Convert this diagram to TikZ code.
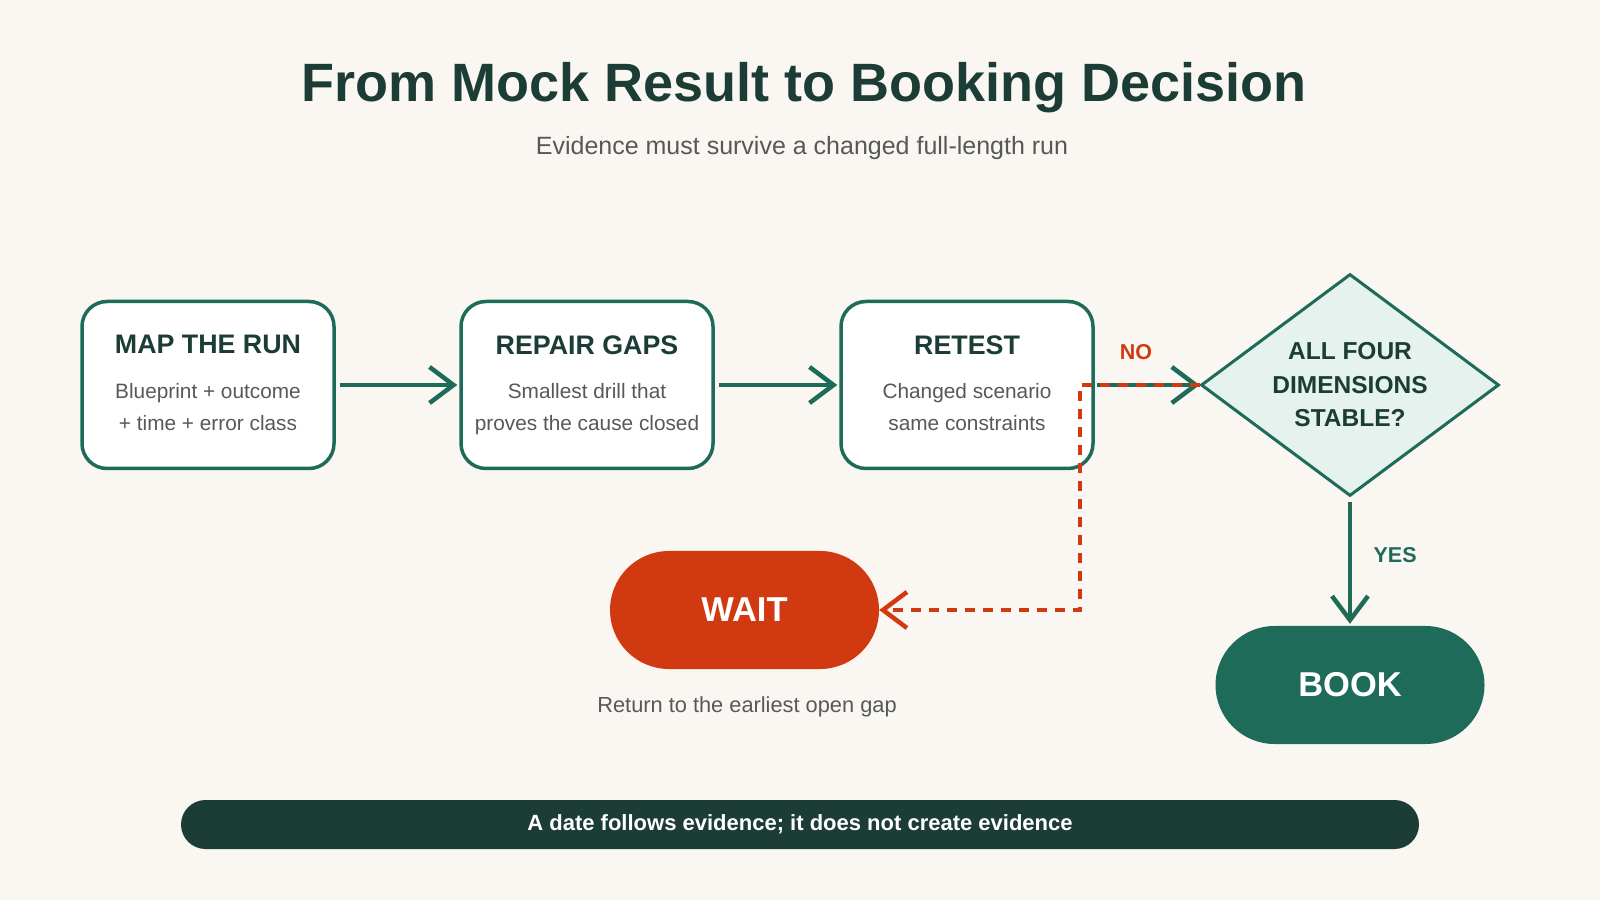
\documentclass[tikz,border=0pt]{standalone}
\usepackage{fontspec}
\setmainfont{Liberation Sans}
\usetikzlibrary{arrows.meta,shapes.geometric,positioning}

\definecolor{paper}{HTML}{FAF7F2}
\definecolor{ink}{HTML}{1B3D35}
\definecolor{teal}{HTML}{1E6B5A}
\definecolor{rust}{HTML}{D13A10}
\definecolor{mint}{HTML}{E6F2EE}
\definecolor{slate}{HTML}{555A57}

\newcommand{\stephead}{\bfseries\fontsize{26.8}{30}\selectfont\color{ink}}
\newcommand{\lastline}{\rule[-4.5pt]{0pt}{1pt}}

\tikzset{
  stepbox/.style={draw=teal, line width=3.5pt, fill=white, rounded corners=25pt,
    minimum width=252pt, minimum height=167pt, align=center, inner sep=0pt,
    font=\fontsize{20.8}{31.6}\selectfont, text=slate},
  checkbox/.style={diamond, aspect=1.34, draw=teal, line width=3pt, fill=mint, inner sep=0pt,
    minimum width=298pt, minimum height=222pt, align=center,
    font=\bfseries\fontsize{24.5}{33.5}\selectfont, text=ink},
  endcap/.style={minimum width=269pt, minimum height=118pt, rounded corners=59pt,
    inner sep=0pt, text=white, font=\bfseries\fontsize{34.5}{38}\selectfont},
  flow/.style={draw=teal, line width=4.5pt, -{Straight Barb[length=24pt,width=36pt]}},
  back/.style={draw=rust, line width=4.5pt, dash pattern=on 10pt off 8pt,
    -{Straight Barb[length=24pt,width=36pt]}},
  tag/.style={font=\bfseries\fontsize{21.5}{25}\selectfont}
}

\begin{document}
\begin{tikzpicture}[x=1pt,y=1pt]
    % Fondo
    \fill[paper] (0,0) rectangle (1600,900);
    \useasboundingbox (0,0) rectangle (1600,900);

    % Titulos
    \node[font=\bfseries\fontsize{54}{58}\selectfont, text=ink] (title) at (804,812) {From Mock Result to Booking Decision};
    \node[font=\fontsize{25}{29}\selectfont, text=slate] (subtitle) at (802,752) {Evidence must survive a changed full-length run};

    % Pasos
    \node[stepbox] (map) at (208,515) {{\stephead MAP THE RUN}\\[13pt] Blueprint + outcome\\ + time + error class\lastline};
    \node[stepbox] (repair) at (587,515) {{\stephead REPAIR GAPS}\\[13pt] Smallest drill that\\ proves the cause closed\lastline};
    \node[stepbox] (retest) at (967,515) {{\stephead RETEST}\\[13pt] Changed scenario\\ same constraints\lastline};

    % Decision
    \node[checkbox] (check) at (1350,515) {ALL FOUR\\ DIMENSIONS\\ STABLE?};

    % Salidas
    \node[endcap, fill=rust] (wait) at (744.5,290) {WAIT};
    \node[font=\fontsize{21.8}{25}\selectfont, text=slate] (waitnote) at (747,193) {Return to the earliest open gap};
    \node[endcap, fill=teal] (book) at (1350,215) {BOOK};

    % Flechas
    \draw[flow, shorten <=4pt, shorten >=2pt] (map) -- (repair);
    \draw[flow, shorten <=4pt, shorten >=2pt] (repair) -- (retest);
    \draw[flow, shorten <=2pt] (retest) -- (check);
    \draw[flow, shorten <=4pt, shorten >=2pt] (check) -- (book)
        node[tag, text=teal, pos=0.45, right=18pt] (yes) {YES};

    % Camino de regreso
    \coordinate (turn) at (1080,515);
    \draw[back] (check.west) -- (turn) |- (wait.east);
    \node[tag, text=rust] (no) at (1136,548) {NO};

    % Barra inferior
    \node[fill=ink, rounded corners=24.5pt, minimum width=1238pt, minimum height=49pt, inner sep=0pt,
        text=white, font=\bfseries\fontsize{22}{26}\selectfont] (note) at (800,75.5)
        {A date follows evidence; it does not create evidence};
\end{tikzpicture}
\end{document}
